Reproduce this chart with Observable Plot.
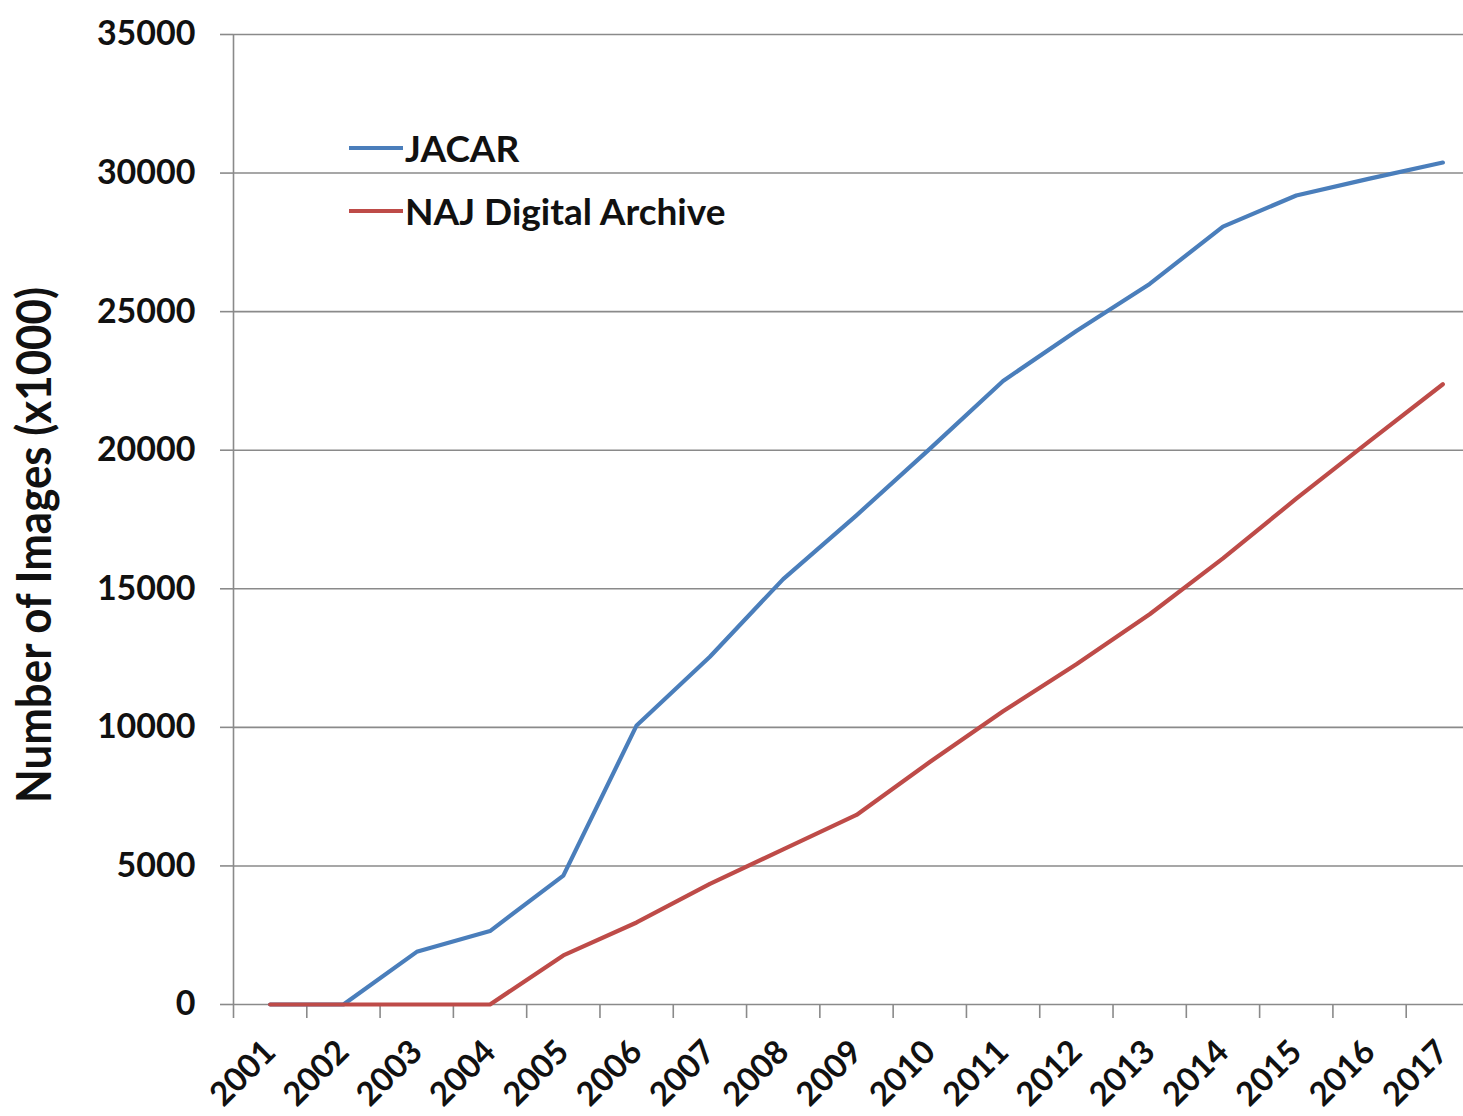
<!DOCTYPE html>
<html>
<head>
<meta charset="utf-8">
<script src="https://cdn.jsdelivr.net/npm/d3@7"></script>
<script src="https://cdn.jsdelivr.net/npm/@observablehq/plot@0.6"></script>
<style>
  html, body { margin: 0; padding: 0; background: #fff; }
  #wrap { position: relative; width: 1463px; height: 1116px; overflow: hidden; font-family: Lato, "Open Sans", sans-serif; font-weight: bold; }
  #legend { position: absolute; left: 349px; top: 116px; font-size: 37px; color: #111; }
  #legend .row { display: flex; align-items: center; height: 63px; }
  #legend .sw { width: 54px; height: 4px; margin-right: 2px; }
  #ytitle { position: absolute; left: 33px; top: 545px; transform: translate(-50%, -50%) rotate(-90deg) scale(1.02, 1.12); white-space: nowrap; font-size: 43px; color: #111; }
  svg text { font-weight: bold; }
</style>
</head>
<body>
<div id="wrap">
  <div id="chart"></div>
  <div id="legend"></div>
  <div id="ytitle">Number of Images (x1000)</div>
</div>
<script>
const years = [2001,2002,2003,2004,2005,2006,2007,2008,2009,2010,2011,2012,2013,2014,2015,2016,2017];
const jacar = [0,0,1900,2650,4650,10070,12550,15350,17650,20050,22500,24300,26000,28070,29190,29800,30380];
const naj = [0,0,0,0,1770,2960,4350,5600,6840,8750,10580,12280,14080,16100,18250,20330,22380];
const seriesNames = ["JACAR", "NAJ Digital Archive"];
const seriesColors = ["#4a7ebb", "#be4b48"];
const yTicks = [0,5000,10000,15000,20000,25000,30000,35000];
const yearBoundaries = years.map(y => y - 0.5);

const data = [];
years.forEach((y, i) => data.push({year: y, value: jacar[i], series: seriesNames[0]}));
years.forEach((y, i) => data.push({year: y, value: naj[i], series: seriesNames[1]}));

const grid = "#8a8a8a";
const chart = Plot.plot({
  width: 1463,
  height: 1116,
  marginLeft: 233,
  marginRight: 0,
  marginTop: 34,
  marginBottom: 112,
  style: {fontFamily: "Lato, 'Open Sans', sans-serif", fontWeight: "bold", fontSize: "34px", color: "#111", background: "#fff"},
  x: {domain: [years[0] - 0.5, years[years.length-1] + 0.5], range: [233, 1479]},
  y: {domain: [0, 35000], range: [1004, 34]},
  color: {domain: seriesNames, range: seriesColors},
  marks: [
    Plot.ruleY(yTicks, {stroke: grid, strokeWidth: 1.6}),
    Plot.ruleX([years[0] - 0.5], {stroke: grid, strokeWidth: 1.6}),
    Plot.axisY({ticks: yTicks, tickSize: 13, tickPadding: 25, tickFormat: d => String(d), stroke: grid, strokeWidth: 1.6, label: null, fontSize: 34}),
    Plot.axisX({ticks: yearBoundaries, tickSize: 14, tickFormat: () => "", stroke: grid, strokeWidth: 1.6, label: null}),
    Plot.axisX({ticks: years, tickSize: 0, tickPadding: 42, tickRotate: -45, tickFormat: d => String(d), label: null, fontSize: 33}),
    Plot.line(data, {x: "year", y: "value", stroke: "series", z: "series", strokeWidth: 4.2, strokeLinejoin: "round", strokeLinecap: "round"})
  ]
});
document.getElementById("chart").appendChild(chart);

const legend = document.getElementById("legend");
seriesNames.forEach((name, i) => {
  const row = document.createElement("div");
  row.className = "row";
  const sw = document.createElement("div");
  sw.className = "sw";
  sw.style.background = seriesColors[i];
  const t = document.createElement("span");
  t.textContent = name;
  row.appendChild(sw);
  row.appendChild(t);
  legend.appendChild(row);
});
</script>
</body>
</html>
